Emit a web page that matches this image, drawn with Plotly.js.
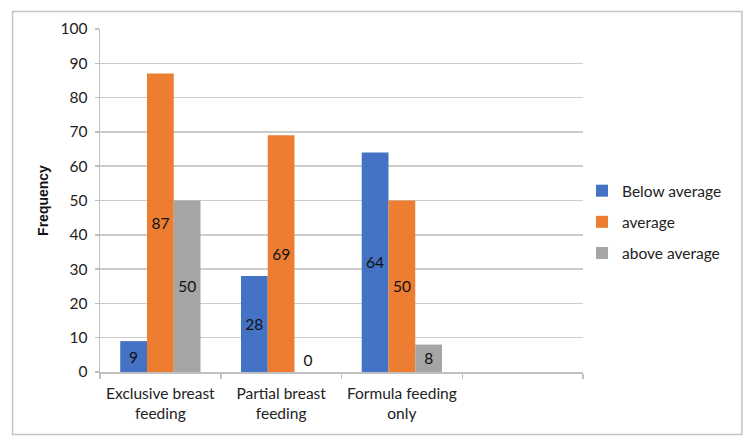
<!DOCTYPE html>
<html>
<head>
<meta charset="utf-8">
<script src="https://cdn.plot.ly/plotly-3.0.1.min.js"></script>
<style>
  body { margin: 0; background: #fff; }
  #chart { width: 750px; height: 440px; }
</style>
</head>
<body>
<div id="chart"></div>
<script>
// categories (the fourth slot is empty in the original chart)
var categories = ["Exclusive breast<br>feeding", "Partial breast<br>feeding", "Formula feeding<br>only", " "];
var seriesNames = ["Below average", "average", "above average"];
var belowAverage = [9, 28, 64, null];
var average = [87, 69, 50, null];
var aboveAverage = [50, 0, 8, null];
var yTicks = [0, 10, 20, 30, 40, 50, 60, 70, 80, 90, 100];

var colors = ["#4472C4", "#ED7D31", "#A5A5A5"];
var font = "Lato, 'Open Sans', sans-serif";
var fontSize = 15.5;

function makeTrace(name, values, color, group) {
    // zero-height bars get their label put above the axis
    var positions = values.map(function (v) { return v === 0 ? "outside" : "inside"; });
    return {
        x: categories,
        y: values,
        type: "bar",
        name: name,
        legendgroup: group,
        marker: { color: color },
        text: values.map(function (v) { return v === null ? "" : String(v); }),
        textposition: positions,
        insidetextanchor: "middle",
        textangle: 0,
        constraintext: "none",
        cliponaxis: false,
        textfont: { family: font, size: fontSize, color: "#111" },
        hoverinfo: "skip"
    };
}

var data = [
    makeTrace(seriesNames[0], belowAverage, colors[0], "g1"),
    makeTrace(seriesNames[1], average, colors[1], "g2"),
    makeTrace(seriesNames[2], aboveAverage, colors[2], "g3")
];

var layout = {
    width: 750,
    height: 440,
    margin: { l: 99.5, r: 167, t: 29.3, b: 68.3 },
    paper_bgcolor: "#ffffff",
    plot_bgcolor: "#ffffff",
    barmode: "group",
    bargap: 0.335,
    bargroupgap: 0,
    font: { family: font, size: fontSize, color: "#333" },
    xaxis: {
        type: "category",
        categoryorder: "array",
        categoryarray: categories,
        range: [-0.5, 3.5],
        showline: true,
        linecolor: "#bfbfbf",
        linewidth: 1.5,
        ticks: "outside",
        tickson: "boundaries",
        ticklen: 5,
        tickcolor: "#bfbfbf",
        tickwidth: 1.5,
        ticklabelstandoff: 7,
        showgrid: false,
        tickfont: { family: font, size: fontSize, color: "#222" },
        fixedrange: true
    },
    yaxis: {
        range: [0, 100],
        tickvals: yTicks,
        showline: true,
        linecolor: "#bfbfbf",
        linewidth: 1.5,
        ticks: "outside",
        ticklen: 4,
        tickcolor: "#bfbfbf",
        tickwidth: 1.5,
        ticklabelstandoff: 4,
        showgrid: true,
        gridcolor: "#cccccc",
        gridwidth: 1.5,
        zeroline: false,
        tickfont: { family: font, size: fontSize, color: "#222" },
        title: {
            text: "<b>Frequency</b>",
            font: { family: "'Liberation Sans', Arial, sans-serif", size: 14, color: "#111" },
            standoff: 8
        },
        automargin: false,
        fixedrange: true
    },
    legend: {
        x: 0.998,
        xanchor: "left",
        y: 0.437,
        yanchor: "middle",
        traceorder: "grouped",
        tracegroupgap: 8,
        font: { family: font, size: fontSize, color: "#222" },
        bgcolor: "rgba(0,0,0,0)"
    },
    shapes: [{
        type: "rect",
        xref: "paper",
        yref: "paper",
        x0: -0.181, x1: 1.329,
        y0: -0.182, y1: 1.051,
        line: { color: "#c4c4c4", width: 1.5 }
    }]
};

Plotly.newPlot("chart", data, layout, { displayModeBar: false, staticPlot: true });
</script>
</body>
</html>
